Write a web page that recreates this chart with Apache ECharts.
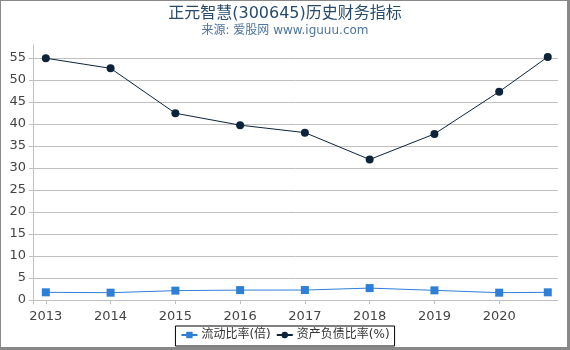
<!DOCTYPE html>
<html>
<head>
<meta charset="utf-8">
<script src="https://cdn.jsdelivr.net/npm/echarts@6/dist/echarts.min.js"></script>
<style>
html,body{margin:0;padding:0;background:#fff;}
#c{width:570px;height:350px;}
</style>
</head>
<body>
<div id="c"></div>
<script>
var titleText = '正元智慧(300645)历史财务指标';
var subtitleText = '来源: 爱股网 www.iguuu.com';
var xPositions = [2013, 2014, 2015, 2016, 2017, 2018, 2019, 2020, 2020.75];
var xTickLabels = [2013, 2014, 2015, 2016, 2017, 2018, 2019, 2020];
var yTickLabels = [0, 5, 10, 15, 20, 25, 30, 35, 40, 45, 50, 55];
var currentRatioName = '流动比率(倍)';
var currentRatio = [1.74, 1.66, 2.12, 2.25, 2.26, 2.7, 2.19, 1.66, 1.74];
var debtRatioName = '资产负债比率(%)';
var debtRatio = [54.9, 52.6, 42.4, 39.7, 38.0, 31.9, 37.7, 47.3, 55.2];

function pairs(xs, ys) { return xs.map(function (x, i) { return [x, ys[i]]; }); }

var font = '"DejaVu Sans", "Noto Sans CJK SC", sans-serif';
var chart = echarts.init(document.getElementById('c'), null, {renderer: 'canvas'});
chart.setOption({
  animation: false,
  backgroundColor: '#fff',
  textStyle: {fontFamily: font},
  title: {
    text: titleText,
    subtext: subtitleText,
    left: 'center',
    top: 1,
    itemGap: 3,
    textStyle: {fontFamily: font, fontSize: 16, fontWeight: 'normal', color: '#274b6d'},
    subtextStyle: {fontFamily: font, fontSize: 12, color: '#4d759e'}
  },
  legend: {
    left: 'center',
    top: 326,
    padding: [3, 5, 5, 5],
    itemGap: 5,
    itemWidth: 16,
    itemHeight: 8,
    borderColor: '#000',
    borderWidth: 1,
    borderRadius: 0,
    textStyle: {fontFamily: font, fontSize: 12, color: '#333', padding: [0, 0, 0, -1]},
    data: [currentRatioName, debtRatioName]
  },
  grid: {left: 33, right: 12, top: 45, bottom: 46, containLabel: false},
  xAxis: {
    type: 'value',
    min: 2012.802,
    max: 2020.908,
    axisLine: {show: true, lineStyle: {color: '#c0c0c0', width: 1}},
    axisTick: {show: true, length: 4, customValues: xTickLabels, lineStyle: {color: '#c0c0c0'}},
    axisLabel: {customValues: xTickLabels, fontSize: 13, color: '#444', margin: 6, formatter: function (v) { return String(v); }},
    splitLine: {show: false}
  },
  yAxis: {
    type: 'value',
    min: -0.91,
    max: 57.9,
    axisLine: {show: true, lineStyle: {color: '#c0c0c0', width: 1}},
    axisTick: {show: true, length: 4, customValues: yTickLabels, lineStyle: {color: '#c0c0c0'}},
    axisLabel: {customValues: yTickLabels, fontSize: 13, color: '#444', margin: 7},
    splitLine: {show: true, lineStyle: {color: '#c0c0c0', width: 1}}
  },
  series: [
    {
      name: currentRatioName,
      type: 'line',
      data: pairs(xPositions, currentRatio),
      symbol: 'rect',
      symbolSize: 8,
      showAllSymbol: true,
      itemStyle: {color: '#2f7ed8'},
      lineStyle: {color: '#2f7ed8', width: 1}
    },
    {
      name: debtRatioName,
      type: 'line',
      data: pairs(xPositions, debtRatio),
      symbol: 'circle',
      symbolSize: 8,
      showAllSymbol: true,
      itemStyle: {color: '#0d233a'},
      lineStyle: {color: '#0d233a', width: 1}
    }
  ],
  graphic: [
    {type: 'rect', silent: true, z: 100, shape: {x: 0, y: 0, width: 1, height: 350}, style: {fill: '#888'}},
    {type: 'rect', silent: true, z: 100, shape: {x: 0, y: 0, width: 570, height: 1}, style: {fill: '#888'}},
    {type: 'rect', silent: true, z: 100, shape: {x: 567, y: 0, width: 3, height: 350}, style: {fill: '#888'}},
    {type: 'rect', silent: true, z: 100, shape: {x: 0, y: 347, width: 570, height: 3}, style: {fill: '#888'}}
  ]
});
</script>
</body>
</html>
